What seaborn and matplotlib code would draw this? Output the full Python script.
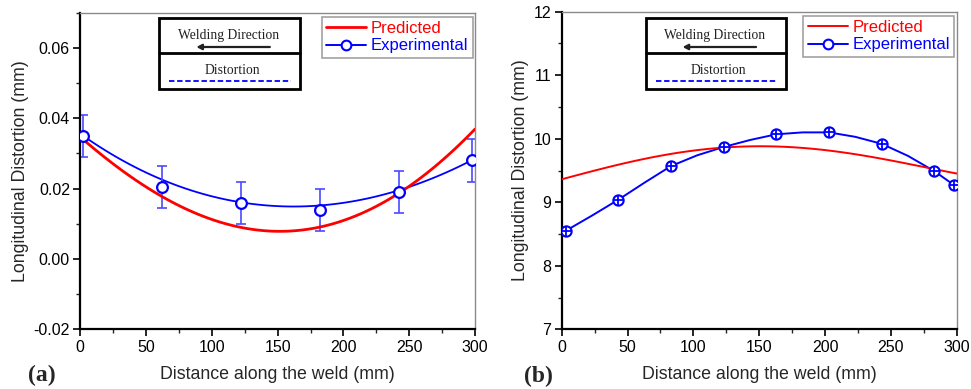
import numpy as np
import pandas as pd
import matplotlib
matplotlib.use("Agg")
import matplotlib.pyplot as plt
import seaborn as sns
from matplotlib.patches import Rectangle, FancyArrowPatch
from matplotlib.lines import Line2D
from matplotlib.ticker import MultipleLocator

# ---------- data: panel (a) ----------
exp_a_x = [2, 62, 122, 182, 242, 298]
exp_a_y = [0.035, 0.0205, 0.016, 0.014, 0.019, 0.028]
exp_a_err = [0.006, 0.006, 0.006, 0.006, 0.006, 0.006]
fit_a_x = [2, 25, 50, 75, 100, 125, 150, 175, 200, 225, 250, 275, 298]
fit_a_y = [0.0349, 0.0298, 0.0246, 0.0204, 0.0177, 0.0161, 0.0151, 0.0150,
           0.0159, 0.0178, 0.0205, 0.0240, 0.0282]
pred_a_x = [0, 25, 50, 75, 100, 125, 150, 175, 200, 225, 250, 275, 300]
pred_a_y = [0.0347, 0.0270, 0.0204, 0.0151, 0.0113, 0.0089, 0.0079, 0.0085,
            0.0108, 0.0149, 0.0207, 0.0282, 0.0368]

# ---------- data: panel (b) ----------
exp_b_x = [3, 43, 83, 123, 163, 203, 243, 283, 298]
exp_b_y = [8.55, 9.04, 9.57, 9.87, 10.07, 10.11, 9.92, 9.49, 9.27]
fit_b_x = [3, 23, 43, 63, 83, 103, 123, 143, 163, 183, 203, 223, 243, 263,
           283, 298]
fit_b_y = [8.55, 8.79, 9.04, 9.31, 9.57, 9.74, 9.87, 9.98, 10.07, 10.10,
           10.10, 10.03, 9.92, 9.73, 9.49, 9.27]
pred_b_x = [0, 25, 50, 75, 100, 125, 150, 175, 200, 225, 250, 275, 300]
pred_b_y = [9.36, 9.50, 9.63, 9.73, 9.81, 9.86, 9.885, 9.87, 9.82, 9.75,
            9.66, 9.55, 9.455]

xticks = [0, 50, 100, 150, 200, 250, 300]
yticks_a = [-0.02, 0.00, 0.02, 0.04, 0.06]
yticks_b = [7, 8, 9, 10, 11, 12]

sns.set_style("white")
plt.rcParams['font.family'] = ['Liberation Sans', 'DejaVu Sans']
plt.rcParams['axes.unicode_minus'] = False

W, H = 971, 389
fig = plt.figure(figsize=(W / 100, H / 100), dpi=100)

RED = "#ff0000"
BLUE = "#0000ff"
EBLUE = "#4a4aff"


def px_axes(x0, x1, ytop, ybot):
    return fig.add_axes([x0 / W, 1 - ybot / H, (x1 - x0) / W, (ybot - ytop) / H])


def style_axes(ax, ylim, yticks, ymin, yfmt):
    ax.set_xlim(0, 300)
    ax.set_ylim(*ylim)
    ax.set_xticks(xticks)
    ax.set_yticks(yticks)
    ax.set_yticklabels([yfmt(v) for v in yticks])
    ax.xaxis.set_minor_locator(MultipleLocator(25))
    ax.yaxis.set_minor_locator(MultipleLocator(ymin))
    ax.tick_params(axis='both', which='major', direction='out', length=5,
                   width=1.2, labelsize=11.5, colors='black', pad=2.5,
                   bottom=True, left=True, top=False, right=False)
    ax.tick_params(axis='both', which='minor', direction='out', length=3,
                   width=1.0, bottom=True, left=True, top=False, right=False)
    for s in ['left', 'bottom']:
        ax.spines[s].set_color('black')
        ax.spines[s].set_linewidth(1.6)
    for s in ['top', 'right']:
        ax.spines[s].set_color('#8a8a8a')
        ax.spines[s].set_linewidth(1.0)
    ax.set_xlabel("Distance along the weld (mm)", fontsize=12.8, labelpad=8)
    ax.set_ylabel("Longitudinal Distortion (mm)", fontsize=12.8, labelpad=3)
    ax.grid(False)


def inset_box(x0, x1, y0, ymid, y1):
    tr = fig.transFigure
    fx = lambda v: v / W
    fy = lambda v: 1 - v / H
    fig.patches.append(Rectangle((fx(x0), fy(y1)), fx(x1) - fx(x0), fy(y0) - fy(y1),
                                 transform=tr, fill=False, ec='black', lw=2.0, zorder=5))
    fig.lines.append(Line2D([fx(x0), fx(x1)], [fy(ymid), fy(ymid)], transform=tr,
                            color='black', lw=2.0, zorder=5))
    cx = (x0 + x1) / 2
    fig.text(fx(cx - 1), fy(36), "Welding Direction", ha='center', va='center',
             fontsize=9.8, family=['Liberation Serif'], color='#222222')
    fig.patches.append(FancyArrowPatch(
        (fx(cx + 43), fy(47)), (fx(cx - 36), fy(47)), transform=tr,
        arrowstyle='-|>,head_length=3,head_width=1.6', color='#222222', lw=1.6,
        mutation_scale=1))
    fig.text(fx(cx + 3), fy(70), "Distortion", ha='center', va='center',
             fontsize=9.8, family=['Liberation Serif'], color='#222222')
    fig.lines.append(Line2D([fx(x0 + 10), fx(x1 - 9)], [fy(80.5), fy(80.5)],
                            transform=tr, color=BLUE, lw=1.3, ls=(0, (3, 1.5))))


def legend(ax, thin=False):
    h1 = Line2D([], [], color=RED, lw=1.4 if thin else 2.0)
    h2 = Line2D([], [], color=BLUE, lw=1.4, marker='o', mfc='white', mec=BLUE,
                mew=1.5, ms=7)
    leg = ax.legend([h1, h2], ["Predicted", "Experimental"], loc='upper right',
                    bbox_to_anchor=(1.0, 0.995), frameon=True, fancybox=False,
                    fontsize=12, handlelength=2.4, handletextpad=0.3,
                    borderpad=0.25, labelspacing=0.15, borderaxespad=0.15)
    leg.get_frame().set_edgecolor('#8a8a8a')
    leg.get_frame().set_linewidth(1.2)
    leg.texts[0].set_color(RED)
    leg.texts[1].set_color(BLUE)


# ---------- panel (a) ----------
ax1 = px_axes(80.3, 475.0, 12.7, 329.3)
sns.regplot(x=pred_a_x, y=pred_a_y, ax=ax1, order=4, ci=None, scatter=False,
            truncate=True, line_kws=dict(color=RED, lw=2.0, zorder=3))
sns.regplot(x=fit_a_x, y=fit_a_y, ax=ax1, order=4, ci=None, scatter=False,
            truncate=True, line_kws=dict(color=BLUE, lw=1.3, zorder=2))
ax1.errorbar(exp_a_x, exp_a_y, yerr=exp_a_err, fmt='none', ecolor=EBLUE,
             elinewidth=1.2, capsize=3.5, capthick=1.2, zorder=2)
sns.scatterplot(x=exp_a_x, y=exp_a_y, ax=ax1, marker='o', s=60,
                facecolor='white', edgecolor=BLUE, linewidth=1.6, zorder=4)
style_axes(ax1, (-0.02, 0.07), yticks_a, 0.01, lambda v: f"{v:.2f}")
legend(ax1)

# ---------- panel (b) ----------
ax2 = px_axes(561.7, 956.7, 11.7, 329.3)
sns.regplot(x=pred_b_x, y=pred_b_y, ax=ax2, order=4, ci=None, scatter=False,
            truncate=True, line_kws=dict(color=RED, lw=1.4, zorder=3))
sns.lineplot(x=fit_b_x, y=fit_b_y, ax=ax2, color=BLUE, lw=1.4, zorder=2)
sns.scatterplot(x=exp_b_x, y=exp_b_y, ax=ax2, marker='o', s=55,
                facecolor='white', edgecolor=BLUE, linewidth=1.5, zorder=4)
ax2.scatter(exp_b_x, exp_b_y, marker='+', s=55, color=BLUE, linewidths=1.3,
            zorder=5)
style_axes(ax2, (7, 12), yticks_b, 0.5, lambda v: f"{v:d}")
legend(ax2, thin=True)

# inset boxes
inset_box(159.3, 300.0, 18.3, 53.3, 89.0)
inset_box(645.7, 786.0, 18.3, 53.3, 89.0)

# panel labels
fig.text(42 / W, 1 - 375 / H, "(a)", ha='center', va='center', fontsize=17,
         fontweight='bold', family=['Liberation Serif'])
fig.text(538 / W, 1 - 376 / H, "(b)", ha='center', va='center', fontsize=17,
         fontweight='bold', family=['Liberation Serif'])

fig.savefig("out.png", dpi=100)
